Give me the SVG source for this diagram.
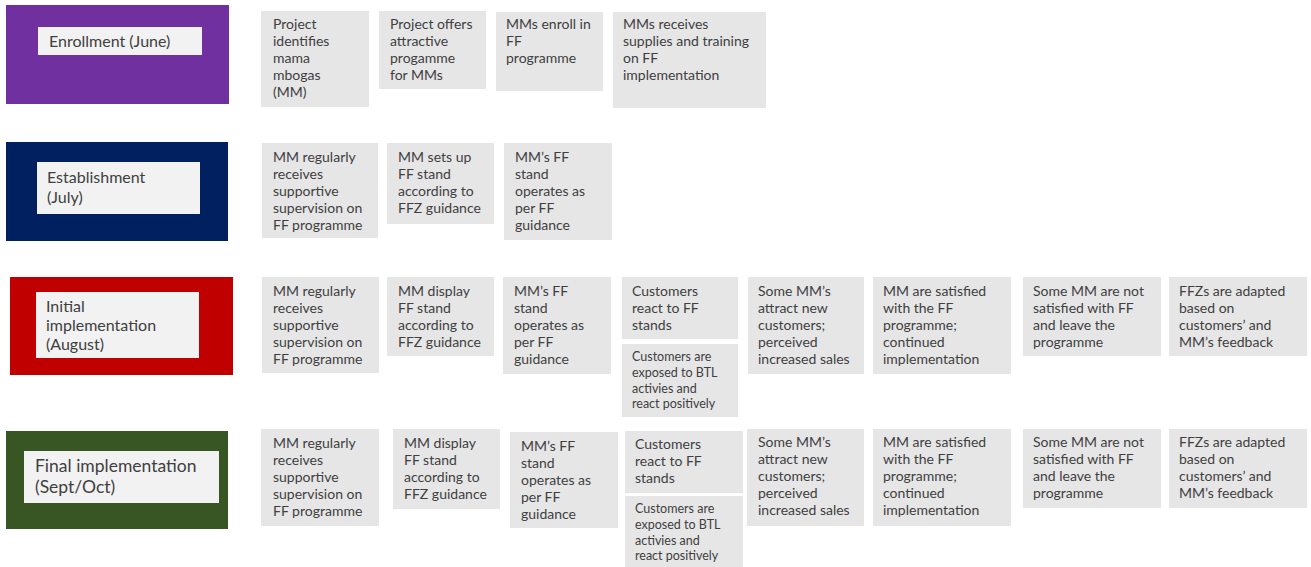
<svg xmlns="http://www.w3.org/2000/svg" width="1311" height="567" viewBox="0 0 1311 567">
<style>
.bg{fill:#ffffff}
.card{fill:#E6E6E7}
.inner{fill:#F2F2F2}
.t{font-family:Lato,"Open Sans",sans-serif;font-size:14px;fill:#404040}
.s{font-family:Lato,"Open Sans",sans-serif;font-size:12.5px;fill:#404040}
.ph{font-family:Lato,"Open Sans",sans-serif;font-size:16px;fill:#404040}
</style>
<rect class="bg" x="0" y="0" width="1311" height="567"/>

<!-- Phase labels -->
<g id="phase-enrollment">
<rect x="6" y="5" width="223" height="99" fill="#7030A0"/>
<rect class="inner" x="38" y="27" width="164" height="28"/>
<text class="ph" x="49" y="47">Enrollment (June)</text>
</g>
<g id="phase-establishment">
<rect x="6" y="142" width="222" height="99" fill="#002060"/>
<rect class="inner" x="37" y="162" width="163" height="52"/>
<text class="ph" x="47" y="183">Establishment</text>
<text class="ph" x="47" y="203">(July)</text>
</g>
<g id="phase-initial">
<rect x="10" y="277" width="223" height="98" fill="#C00000"/>
<rect class="inner" x="36" y="292" width="163" height="66"/>
<text class="ph" x="46" y="312">Initial</text>
<text class="ph" x="46" y="331">implementation</text>
<text class="ph" x="46" y="350">(August)</text>
</g>
<g id="phase-final">
<rect x="6" y="431" width="222" height="98" fill="#375623"/>
<rect class="inner" x="24" y="451" width="195" height="52"/>
<text class="ph" x="35" y="472" style="font-size:17.5px">Final implementation</text>
<text class="ph" x="35" y="493" style="font-size:17.5px">(Sept/Oct)</text>
</g>

<!-- Row 1 -->
<g id="r1-identifies">
<rect class="card" x="261" y="11" width="108" height="96"/>
<text class="t" x="273" y="29">Project</text>
<text class="t" x="273" y="46">identifies</text>
<text class="t" x="273" y="63">mama</text>
<text class="t" x="273" y="80">mbogas</text>
<text class="t" x="273" y="97">(MM)</text>
</g>
<g id="r1-offers">
<rect class="card" x="379" y="11" width="107" height="78"/>
<text class="t" x="390" y="29">Project offers</text>
<text class="t" x="390" y="46">attractive</text>
<text class="t" x="390" y="63">progamme</text>
<text class="t" x="390" y="80">for MMs</text>
</g>
<g id="r1-enroll">
<rect class="card" x="496" y="12" width="107" height="79"/>
<text class="t" x="506" y="29">MMs enroll in</text>
<text class="t" x="506" y="46">FF</text>
<text class="t" x="506" y="63">programme</text>
</g>
<g id="r1-supplies">
<rect class="card" x="613" y="12" width="153" height="96"/>
<text class="t" x="623" y="29">MMs receives</text>
<text class="t" x="623" y="46">supplies and training</text>
<text class="t" x="623" y="63">on FF</text>
<text class="t" x="623" y="80">implementation</text>
</g>

<!-- Row 2 -->
<g id="r2-supervision">
<rect class="card" x="262" y="143" width="116" height="95"/>
<text class="t" x="273" y="162">MM regularly</text>
<text class="t" x="273" y="179">receives</text>
<text class="t" x="273" y="196">supportive</text>
<text class="t" x="273" y="213">supervision on</text>
<text class="t" x="273" y="230">FF programme</text>
</g>
<g id="r2-setsup">
<rect class="card" x="387" y="143" width="107" height="81"/>
<text class="t" x="398" y="162">MM sets up</text>
<text class="t" x="398" y="179">FF stand</text>
<text class="t" x="398" y="196">according to</text>
<text class="t" x="398" y="213">FFZ guidance</text>
</g>
<g id="r2-operates">
<rect class="card" x="504" y="143" width="108" height="97"/>
<text class="t" x="515" y="162">MM’s FF</text>
<text class="t" x="515" y="179">stand</text>
<text class="t" x="515" y="196">operates as</text>
<text class="t" x="515" y="213">per FF</text>
<text class="t" x="515" y="230">guidance</text>
</g>

<!-- Row 3 -->
<g id="r3-supervision">
<rect class="card" x="262" y="277" width="117" height="96"/>
<text class="t" x="273" y="296">MM regularly</text>
<text class="t" x="273" y="313">receives</text>
<text class="t" x="273" y="330">supportive</text>
<text class="t" x="273" y="347">supervision on</text>
<text class="t" x="273" y="364">FF programme</text>
</g>
<g id="r3-display">
<rect class="card" x="387" y="277" width="107" height="79"/>
<text class="t" x="398" y="296">MM display</text>
<text class="t" x="398" y="313">FF stand</text>
<text class="t" x="398" y="330">according to</text>
<text class="t" x="398" y="347">FFZ guidance</text>
</g>
<g id="r3-operates">
<rect class="card" x="503" y="277" width="108" height="97"/>
<text class="t" x="514" y="296">MM’s FF</text>
<text class="t" x="514" y="313">stand</text>
<text class="t" x="514" y="330">operates as</text>
<text class="t" x="514" y="347">per FF</text>
<text class="t" x="514" y="364">guidance</text>
</g>
<g id="r3-react">
<rect class="card" x="622" y="277" width="116" height="62"/>
<text class="t" x="632" y="296">Customers</text>
<text class="t" x="632" y="313">react to FF</text>
<text class="t" x="632" y="330">stands</text>
</g>
<g id="r3-btl">
<rect class="card" x="622" y="344" width="116" height="73"/>
<text class="s" x="632" y="361">Customers are</text>
<text class="s" x="632" y="377">exposed to BTL</text>
<text class="s" x="632" y="393">activies and</text>
<text class="s" x="632" y="408">react positively</text>
</g>
<g id="r3-attract">
<rect class="card" x="748" y="277" width="116" height="97"/>
<text class="t" x="758" y="296">Some MM’s</text>
<text class="t" x="758" y="313">attract new</text>
<text class="t" x="758" y="330">customers;</text>
<text class="t" x="758" y="347">perceived</text>
<text class="t" x="758" y="364">increased sales</text>
</g>
<g id="r3-satisfied">
<rect class="card" x="873" y="277" width="138" height="97"/>
<text class="t" x="883" y="296">MM are satisfied</text>
<text class="t" x="883" y="313">with the FF</text>
<text class="t" x="883" y="330">programme;</text>
<text class="t" x="883" y="347">continued</text>
<text class="t" x="883" y="364">implementation</text>
</g>
<g id="r3-leave">
<rect class="card" x="1023" y="277" width="138" height="79"/>
<text class="t" x="1033" y="296">Some MM are not</text>
<text class="t" x="1033" y="313">satisfied with FF</text>
<text class="t" x="1033" y="330">and leave the</text>
<text class="t" x="1033" y="347">programme</text>
</g>
<g id="r3-adapted">
<rect class="card" x="1169" y="277" width="138" height="79"/>
<text class="t" x="1179" y="296">FFZs are adapted</text>
<text class="t" x="1179" y="313">based on</text>
<text class="t" x="1179" y="330">customers’ and</text>
<text class="t" x="1179" y="347">MM’s feedback</text>
</g>

<!-- Row 4 -->
<g id="r4-supervision">
<rect class="card" x="261" y="429" width="118" height="97"/>
<text class="t" x="273" y="448">MM regularly</text>
<text class="t" x="273" y="465">receives</text>
<text class="t" x="273" y="482">supportive</text>
<text class="t" x="273" y="499">supervision on</text>
<text class="t" x="273" y="516">FF programme</text>
</g>
<g id="r4-display">
<rect class="card" x="393" y="429" width="107" height="80"/>
<text class="t" x="404" y="448">MM display</text>
<text class="t" x="404" y="465">FF stand</text>
<text class="t" x="404" y="482">according to</text>
<text class="t" x="404" y="499">FFZ guidance</text>
</g>
<g id="r4-operates">
<rect class="card" x="510" y="432" width="108" height="96"/>
<text class="t" x="521" y="451">MM’s FF</text>
<text class="t" x="521" y="468">stand</text>
<text class="t" x="521" y="485">operates as</text>
<text class="t" x="521" y="502">per FF</text>
<text class="t" x="521" y="519">guidance</text>
</g>
<g id="r4-react">
<rect class="card" x="625" y="431" width="118" height="62"/>
<text class="t" x="635" y="449">Customers</text>
<text class="t" x="635" y="466">react to FF</text>
<text class="t" x="635" y="483">stands</text>
</g>
<g id="r4-btl">
<rect class="card" x="625" y="496" width="118" height="71"/>
<text class="s" x="635" y="513">Customers are</text>
<text class="s" x="635" y="529">exposed to BTL</text>
<text class="s" x="635" y="545">activies and</text>
<text class="s" x="635" y="560">react positively</text>
</g>
<g id="r4-attract">
<rect class="card" x="747" y="429" width="117" height="97"/>
<text class="t" x="758" y="447">Some MM’s</text>
<text class="t" x="758" y="464">attract new</text>
<text class="t" x="758" y="481">customers;</text>
<text class="t" x="758" y="498">perceived</text>
<text class="t" x="758" y="515">increased sales</text>
</g>
<g id="r4-satisfied">
<rect class="card" x="873" y="429" width="138" height="97"/>
<text class="t" x="883" y="447">MM are satisfied</text>
<text class="t" x="883" y="464">with the FF</text>
<text class="t" x="883" y="481">programme;</text>
<text class="t" x="883" y="498">continued</text>
<text class="t" x="883" y="515">implementation</text>
</g>
<g id="r4-leave">
<rect class="card" x="1023" y="429" width="138" height="79"/>
<text class="t" x="1033" y="447">Some MM are not</text>
<text class="t" x="1033" y="464">satisfied with FF</text>
<text class="t" x="1033" y="481">and leave the</text>
<text class="t" x="1033" y="498">programme</text>
</g>
<g id="r4-adapted">
<rect class="card" x="1169" y="429" width="138" height="79"/>
<text class="t" x="1179" y="447">FFZs are adapted</text>
<text class="t" x="1179" y="464">based on</text>
<text class="t" x="1179" y="481">customers’ and</text>
<text class="t" x="1179" y="498">MM’s feedback</text>
</g>

<g id="connectors"></g>
</svg>
